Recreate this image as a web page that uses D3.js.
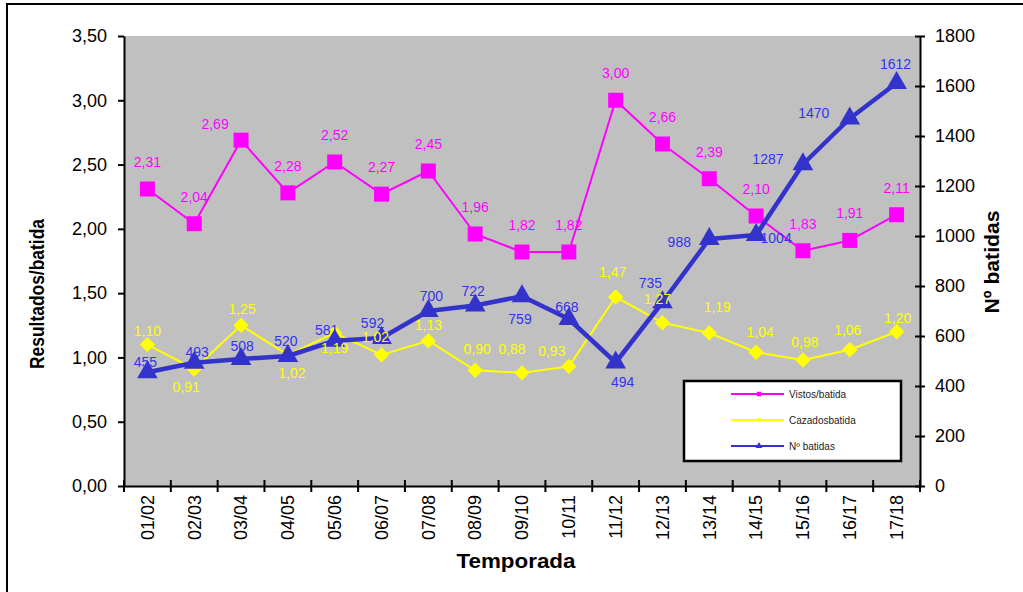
<!DOCTYPE html>
<html>
<head>
<meta charset="utf-8">
<script src="https://cdn.jsdelivr.net/npm/d3@7"></script>
<style>
  body { margin: 0; background: #fff; }
  svg { display: block; font-family: Arial, "Liberation Sans", sans-serif; }
</style>
</head>
<body>
<svg width="1023" height="592"></svg>
<script>
// seasons
var temporadas = ["01/02","02/03","03/04","04/05","05/06","06/07","07/08","08/09","09/10",
                  "10/11","11/12","12/13","13/14","14/15","15/16","16/17","17/18"];
// results per batida (left axis)
var vistos = [2.31,2.04,2.69,2.28,2.52,2.27,2.45,1.96,1.82,1.82,3.00,2.66,2.39,2.10,1.83,1.91,2.11];
var cazados = [1.10,0.91,1.25,1.02,1.19,1.02,1.13,0.90,0.88,0.93,1.47,1.27,1.19,1.04,0.98,1.06,1.20];
// number of batidas (right axis)
var batidas = [455,493,508,520,581,592,700,722,759,668,494,735,988,1004,1287,1470,1612];

var leftTicks = [0,0.5,1,1.5,2,2.5,3,3.5];
var rightTicks = [0,200,400,600,800,1000,1200,1400,1600,1800];

// label nudges [dx, dy] so they sit like the original
var vistosLabelPos = vistos.map(function(d, i) { return i == 2 ? [-26,-16] : [0,-27]; });
var cazadosLabelPos = [[0,-13],[-8,18],[1,-16],[4,18],[0,15],[-6,-18],[0,-16],[2,-21],[-10,-24],
                       [-17,-15],[-3,-25],[-5,-24],[8,-26],[4,-20],[2,-18],[-2,-20],[1,-14]];
var batidasLabelPos = [[-2,-10],[3,-11],[1,-13],[-2,-15],[-8,-11],[-9,-15],[3,-15],[-2,-14],[-2,23],
                       [-2,-12],[7,20],[-12,-19],[-30,3],[20,3],[-35,-5],[-36,-5],[-1,-19]];

var plot = { left: 124, right: 920, top: 36, bottom: 486 };

var svg = d3.select("svg");
var es = d3.formatLocale({ decimal: ",", thousands: ".", grouping: [3], currency: ["", "€"] });
var fmt2 = es.format(".2f");

// outer frame
svg.append("rect")
    .attr("x", 7).attr("y", 4)
    .attr("width", 1040).attr("height", 620)
    .attr("fill", "none").attr("stroke", "#000").attr("stroke-width", 2);

// plot background
svg.append("rect")
    .attr("x", plot.left).attr("y", plot.top)
    .attr("width", plot.right - plot.left).attr("height", plot.bottom - plot.top)
    .attr("fill", "#c0c0c0");

var x = d3.scaleBand().domain(temporadas).range([plot.left, plot.right]);
var yL = d3.scaleLinear().domain([0, 3.5]).range([plot.bottom, plot.top]);
var yR = d3.scaleLinear().domain([0, 1800]).range([plot.bottom, plot.top]);
var cx = function(i) { return x(temporadas[i]) + x.bandwidth() / 2; };

// left axis
var gL = svg.append("g")
    .attr("transform", "translate(" + plot.left + ",0)")
    .call(d3.axisLeft(yL).tickValues(leftTicks).tickFormat(fmt2).tickSize(6).tickSizeOuter(0).tickPadding(11));

// right axis
var gR = svg.append("g")
    .attr("transform", "translate(" + plot.right + ",0)")
    .call(d3.axisRight(yR).tickValues(rightTicks).tickFormat(d3.format("d"))
        .tickSize(5).tickSizeOuter(0).tickPadding(10));
gR.selectAll(".tick line").attr("x1", -5);

// bottom axis, ticks at the category boundaries
var gB = svg.append("g")
    .attr("transform", "translate(0," + plot.bottom + ")")
    .call(d3.axisBottom(x).tickSize(0).tickSizeOuter(0).tickPadding(0));
gB.selectAll(".tick text")
    .attr("transform", "rotate(-90)")
    .attr("text-anchor", "end")
    .attr("x", -9).attr("y", 0).attr("dy", "0.35em");
gB.selectAll(".boundary")
    .data(d3.range(temporadas.length + 1))
    .enter().append("line")
    .attr("x1", function(i) { return plot.left + i * x.bandwidth(); })
    .attr("x2", function(i) { return plot.left + i * x.bandwidth(); })
    .attr("y1", -6).attr("y2", 6)
    .attr("stroke", "#000").attr("stroke-width", 2);

[gL, gR, gB].forEach(function(g) {
    g.selectAll(".domain").attr("stroke", "#000").attr("stroke-width", 2);
    g.selectAll(".tick line").attr("stroke", "#000").attr("stroke-width", 2);
    g.selectAll(".tick text").attr("fill", "#000").style("font-size", "18px")
        .style("font-family", "Arial, 'Liberation Sans', sans-serif");
});

// axis titles
svg.append("text")
    .attr("transform", "translate(44,294) rotate(-90)")
    .attr("text-anchor", "middle")
    .attr("textLength", 150).attr("lengthAdjust", "spacingAndGlyphs")
    .style("font-size", "21px").style("font-weight", "bold")
    .text("Resultados/batida");
svg.append("text")
    .attr("transform", "translate(999,262) rotate(-90)")
    .attr("text-anchor", "middle")
    .attr("textLength", 103).attr("lengthAdjust", "spacingAndGlyphs")
    .style("font-size", "21px").style("font-weight", "bold")
    .text("Nº batidas");
svg.append("text")
    .attr("x", 516).attr("y", 568)
    .attr("text-anchor", "middle")
    .attr("textLength", 119).attr("lengthAdjust", "spacingAndGlyphs")
    .style("font-size", "21px").style("font-weight", "bold")
    .text("Temporada");

// series
var series = [
    { name: "Vistos/batida", values: vistos, y: yL, color: "#ff00ff", width: 2, shape: d3.symbolSquare, size: 225,
      label: "#ff00ff", pos: vistosLabelPos, fmt: fmt2 },
    { name: "Cazadosbatida", values: cazados, y: yL, color: "#ffff00", width: 2, shape: d3.symbolDiamond2, size: 150,
      label: "#ffff00", pos: cazadosLabelPos, fmt: fmt2 },
    { name: "Nº batidas", values: batidas, y: yR, color: "#3333cc", width: 4.5, shape: d3.symbolTriangle, size: 185,
      label: "#3333ee", pos: batidasLabelPos, fmt: d3.format("d") }
];

series.forEach(function(s) {
    var line = d3.line()
        .x(function(d, i) { return cx(i); })
        .y(function(d) { return s.y(d); });
    var g = svg.append("g");
    g.append("path")
        .datum(s.values)
        .attr("fill", "none")
        .attr("stroke", s.color)
        .attr("stroke-width", s.width)
        .attr("stroke-linejoin", "round")
        .attr("d", line);
    g.selectAll("path.mark")
        .data(s.values)
        .enter().append("path")
        .attr("class", "mark")
        .attr("transform", function(d, i) { return "translate(" + cx(i) + "," + s.y(d) + ")"; })
        .attr("d", d3.symbol().type(s.shape).size(s.size))
        .attr("fill", s.color);
});

// data labels on top
series.forEach(function(s) {
    svg.append("g").selectAll("text")
        .data(s.values)
        .enter().append("text")
        .attr("x", function(d, i) { return cx(i) + s.pos[i][0]; })
        .attr("y", function(d, i) { return s.y(d) + s.pos[i][1]; })
        .attr("dy", "0.35em")
        .attr("text-anchor", "middle")
        .attr("fill", s.label)
        .style("font-size", "14px")
        .text(function(d) { return s.fmt(d); });
});

// legend
var lg = svg.append("g").attr("transform", "translate(684,381)");
lg.append("rect")
    .attr("width", 217).attr("height", 80)
    .attr("fill", "#fff").attr("stroke", "#000").attr("stroke-width", 2.5);
series.forEach(function(s, i) {
    var yy = 13 + i * 26;
    lg.append("line")
        .attr("x1", 47).attr("x2", 100).attr("y1", yy).attr("y2", yy)
        .attr("stroke", s.color).attr("stroke-width", 2);
    lg.append("path")
        .attr("transform", "translate(75," + yy + ")")
        .attr("d", d3.symbol().type(s.shape).size(20))
        .attr("fill", s.color);
    lg.append("text")
        .attr("x", 105).attr("y", yy).attr("dy", "0.35em")
        .attr("fill", "#222")
        .style("font-size", "10px")
        .text(s.name);
});
</script>
</body>
</html>
